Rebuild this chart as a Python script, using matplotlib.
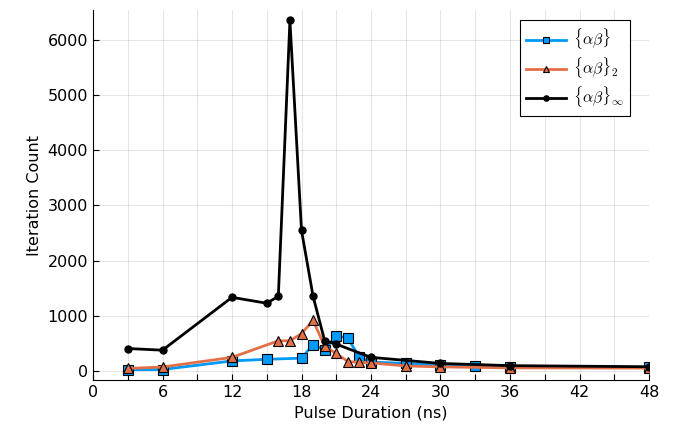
import matplotlib
matplotlib.use("Agg")
import matplotlib.pyplot as plt

plt.rcParams['mathtext.fontset'] = 'cm'
plt.rcParams['font.family'] = ['DejaVu Sans']

x_ab = [3, 6, 12, 15, 18, 19, 20, 21, 22, 23, 24, 27, 30, 33, 36, 48]
y_ab = [25, 30, 185, 215, 235, 480, 385, 645, 595, 255, 165, 140, 110, 90, 80, 70]

x_ab2 = [3, 6, 12, 16, 17, 18, 19, 20, 21, 22, 23, 24, 27, 30, 36, 48]
y_ab2 = [50, 75, 250, 550, 550, 680, 920, 450, 320, 175, 160, 150, 95, 78, 60, 55]

x_abinf = [3, 6, 12, 15, 16, 17, 18, 19, 20, 21, 24, 30, 36, 48]
y_abinf = [410, 380, 1337, 1230, 1355, 6350, 2550, 1355, 550, 490, 250, 140, 100, 80]

labels = [r'$\{\alpha\beta\}$', r'$\{\alpha\beta\}_2$', r'$\{\alpha\beta\}_\infty$']
xticks = list(range(0, 49, 3))
yticks = [0, 1000, 2000, 3000, 4000, 5000, 6000]

fig = plt.figure(figsize=(6.76, 4.28), dpi=100)
ax = fig.add_axes([93/676, 1-380/428, (649-93)/676, (380-10)/428])

ax.plot(x_ab, y_ab, color='#009AFA', lw=2, marker='s', ms=6.5, mec='black', mew=0.8, label=labels[0])
ax.plot(x_ab2, y_ab2, color='#E36F47', lw=2, marker='^', ms=6.5, mec='black', mew=0.8, label=labels[1])
ax.plot(x_abinf, y_abinf, color='black', lw=2, marker='o', ms=5, mec='black', label=labels[2])

ax.set_xlim(0, 48)
ax.set_ylim(-160, 6540)
ax.set_xticks(xticks)
ax.set_xticklabels([str(t) if t % 6 == 0 else '' for t in xticks])
ax.set_yticks(yticks)
ax.tick_params(direction='in', labelsize=11.5, length=4, width=0.8, colors='black')
ax.grid(True, color='black', alpha=0.1, lw=0.8)
for s in ['top', 'right']:
    ax.spines[s].set_visible(False)
ax.set_xlabel('Pulse Duration (ns)', fontsize=11.5)
ax.set_ylabel('Iteration Count', fontsize=11.5)

leg = ax.legend(loc='upper right', fontsize=11.5, fancybox=False, framealpha=1,
                edgecolor='black', handlelength=2.5, borderpad=0.4, labelspacing=0.25,
                handletextpad=0.4, markerscale=0.75, borderaxespad=0,
                bbox_to_anchor=((630-93)/556, 1.0 - 10/370))
leg.get_frame().set_linewidth(0.8)

fig.savefig('out.png', dpi=100)
